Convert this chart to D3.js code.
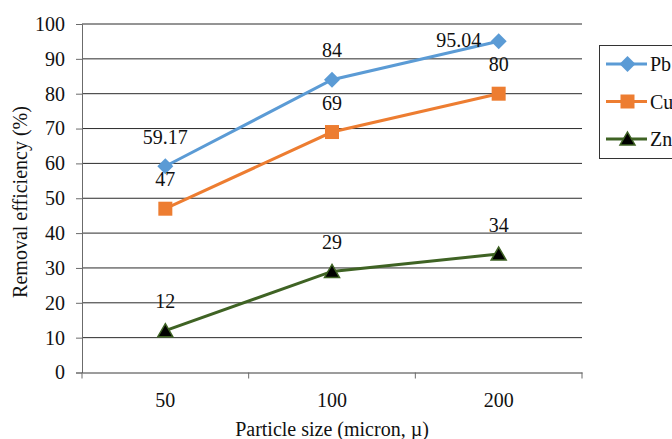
<!DOCTYPE html>
<html>
<head>
<meta charset="utf-8">
<script src="https://cdn.jsdelivr.net/npm/d3@7"></script>
<style>
  html, body { margin: 0; padding: 0; background: #fff; }
  svg text { font-family: "Liberation Serif", "Times New Roman", Times, "DejaVu Serif", serif !important; }
</style>
</head>
<body>
<svg id="chart" width="672" height="439"></svg>
<script>
// Particle sizes (categories) and removal efficiency per metal
const categories = ["50", "100", "200"];
const pbValues = [59.17, 84, 95.04];
const cuValues = [47, 69, 80];
const znValues = [12, 29, 34];
const yTicks = [0, 10, 20, 30, 40, 50, 60, 70, 80, 90, 100];

const seriesList = [
  { name: "Pb", values: pbValues, color: "#5B9BD5", marker: "diamond" },
  { name: "Cu", values: cuValues, color: "#ED7D31", marker: "square" },
  { name: "Zn", values: znValues, color: "#3F6324", marker: "triangle" }
];

const FONT = 20;
const svg = d3.select("#chart");
const plot = { left: 82, right: 582, top: 24, bottom: 372.5 };

const x = d3.scaleBand().domain(categories).range([plot.left, plot.right]);
const y = d3.scaleLinear().domain([0, 100]).range([plot.bottom, plot.top]);
const cx = c => x(c) + x.bandwidth() / 2;

// horizontal gridlines
svg.append("g").selectAll("line").data(yTicks.filter(t => t > 0)).join("line")
  .attr("x1", plot.left).attr("x2", plot.right)
  .attr("y1", d => y(d)).attr("y2", d => y(d))
  .attr("stroke", "#2b2b2b").attr("stroke-width", 1);

// y axis
const yAxis = svg.append("g").attr("transform", `translate(${plot.left},0)`)
  .call(d3.axisLeft(y).tickValues(yTicks).tickSize(6).tickPadding(11));
yAxis.select(".domain").attr("stroke", "#6b6b6b");
yAxis.selectAll(".tick line").attr("stroke", "#6b6b6b");
yAxis.selectAll("text").attr("font-size", FONT).attr("fill", "#111");

// x axis with tick marks on category boundaries
const xAxis = svg.append("g").attr("transform", `translate(0,${plot.bottom})`)
  .call(d3.axisBottom(x).tickSize(0).tickPadding(20));
xAxis.select(".domain").attr("stroke", "#3a3a3a");
xAxis.selectAll("text").attr("font-size", FONT).attr("fill", "#111");
const boundaries = categories.map(c => x(c)).concat([x(categories[categories.length - 1]) + x.bandwidth()]);
svg.append("g").selectAll("line").data(boundaries).join("line")
  .attr("x1", d => d).attr("x2", d => d)
  .attr("y1", plot.bottom).attr("y2", plot.bottom + 6)
  .attr("stroke", "#6b6b6b");

// axis titles
svg.append("text")
  .attr("transform", `translate(27,202) rotate(-90)`)
  .attr("text-anchor", "middle").attr("font-size", FONT).attr("fill", "#111")
  .text("Removal efficiency (%)");
svg.append("text")
  .attr("x", (plot.left + plot.right) / 2).attr("y", 436)
  .attr("text-anchor", "middle").attr("font-size", FONT).attr("fill", "#111")
  .text("Particle size (micron, µ)");

// marker shapes
const shapes = {
  diamond: { draw(ctx) { const r = 8; ctx.moveTo(0, -r); ctx.lineTo(r, 0); ctx.lineTo(0, r); ctx.lineTo(-r, 0); ctx.closePath(); } },
  square: { draw(ctx) { const r = 7; ctx.rect(-r, -r, 2 * r, 2 * r); } },
  triangle: { draw(ctx) { ctx.moveTo(0, -7); ctx.lineTo(7.5, 6); ctx.lineTo(-7.5, 6); ctx.closePath(); } }
};
const markerPath = type => d3.symbol(shapes[type])();
function markerStyle(sel, s) {
  if (s.marker === "triangle") sel.attr("fill", "#000").attr("stroke", s.color).attr("stroke-width", 1.5);
  else sel.attr("fill", s.color);
}

const line = d3.line().x((d, i) => cx(categories[i])).y(d => y(d));

seriesList.forEach(s => {
  svg.append("path").datum(s.values)
    .attr("d", line).attr("fill", "none")
    .attr("stroke", s.color).attr("stroke-width", 3);
  const m = svg.append("g").selectAll("path").data(s.values).join("path")
    .attr("d", markerPath(s.marker))
    .attr("transform", (d, i) => `translate(${cx(categories[i])},${y(d)})`);
  markerStyle(m, s);
});

// value labels above each point; the top-right one sits to the left of its marker
const labelNudge = { "Pb-2": [-40, 28] };
seriesList.forEach(s => {
  svg.append("g").selectAll("text").data(s.values).join("text")
    .attr("x", (d, i) => cx(categories[i]) + ((labelNudge[s.name + "-" + i] || [0, 0])[0]))
    .attr("y", (d, i) => y(d) - 22.5 + ((labelNudge[s.name + "-" + i] || [0, 0])[1]))
    .attr("text-anchor", "middle").attr("font-size", FONT).attr("fill", "#111")
    .text(d => d);
});

// legend (box runs past the right edge)
const legend = svg.append("g");
legend.append("rect")
  .attr("x", 599.5).attr("y", 45.5).attr("width", 90).attr("height", 113)
  .attr("fill", "#fff").attr("stroke", "#333").attr("stroke-width", 1);
seriesList.forEach((s, i) => {
  const ly = 64 + i * 37.5;
  const g = legend.append("g");
  g.append("line").attr("x1", 606).attr("x2", 647).attr("y1", ly).attr("y2", ly)
    .attr("stroke", s.color).attr("stroke-width", 3);
  const mk = g.append("path").attr("d", markerPath(s.marker))
    .attr("transform", `translate(627.5,${ly})`);
  markerStyle(mk, s);
  g.append("text").attr("x", 650).attr("y", ly + 7)
    .attr("font-size", FONT).attr("fill", "#111").text(s.name);
});
</script>
</body>
</html>
